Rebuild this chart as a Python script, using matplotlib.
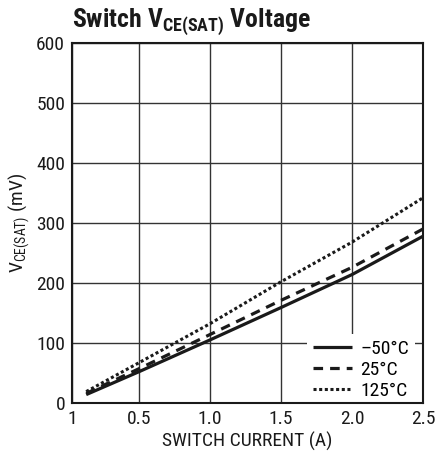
import matplotlib
matplotlib.use("Agg")
import matplotlib.pyplot as plt
from matplotlib import font_manager

available = {f.name for f in font_manager.fontManager.ttflist}
candidates = ['Liberation Sans Narrow', 'Roboto Condensed', 'Open Sans Condensed',
              'Noto Sans Condensed', 'DejaVu Sans Condensed', 'Roboto', 'Liberation Sans']
fam = next((c for c in candidates if c in available), 'DejaVu Sans')

plt.rcParams['font.family'] = [fam, 'DejaVu Sans']
plt.rcParams['mathtext.fontset'] = 'custom'
plt.rcParams['mathtext.rm'] = fam
plt.rcParams['mathtext.bf'] = fam + ':bold'

# Data
current = [0.13, 0.5, 1.0, 1.5, 2.0, 2.5]
v_m50 = [14, 52, 105, 159, 214, 278]
v_25 = [16, 57, 114, 171, 226, 290]
v_125 = [19, 67, 132, 202, 268, 342]
labels = ['\u201350\u00b0C', '25\u00b0C', '125\u00b0C']
xticks = [0.03, 0.5, 1.0, 1.5, 2.0, 2.5]
xticklabels = ['1', '0.5', '1.0', '1.5', '2.0', '2.5']
yticks = [0, 100, 200, 300, 400, 500, 600]

fig = plt.figure(figsize=(4.38, 4.61), dpi=100)
ax = fig.add_axes([72/438, 1-403/461, (423-72)/438, (403-43)/461])

ax.plot(current, v_m50, color='#1a1a1a', lw=2.3, ls='-', label=labels[0], solid_capstyle='butt')
ax.plot(current, v_25, color='#1a1a1a', lw=2.3, ls=(0, (3, 2.2)), label=labels[1])
ax.plot(current, v_125, color='#1a1a1a', lw=2.2, ls=(0, (1, 0.85)), label=labels[2])

ax.set_xlim(0.03, 2.5)
ax.set_ylim(0, 600)
ax.set_xticks(xticks)
ax.set_xticklabels(xticklabels)
ax.set_yticks(yticks)
ax.tick_params(length=0, labelsize=14, pad=5, colors='#1a1a1a')
ax.grid(True, color='#333333', lw=1.0)
ax.set_axisbelow(True)
for s in ax.spines.values():
    s.set_linewidth(1.5)
    s.set_color('#1a1a1a')
    s.set_zorder(6)

ax.set_xlabel('SWITCH CURRENT (A)', fontsize=14, labelpad=3, color='#1a1a1a')
ax.set_ylabel(r'V$_{\mathrm{CE(SAT)}}$ (mV)', fontsize=14, labelpad=3, color='#1a1a1a')

leg = ax.legend(loc='lower right', bbox_to_anchor=(1.005, -0.035), fontsize=14,
                handlelength=2.0, handletextpad=0.45, labelspacing=0.15,
                borderpad=0.3, frameon=True, fancybox=False)
leg.get_frame().set_facecolor('white')
leg.get_frame().set_edgecolor('none')
leg.get_frame().set_alpha(1)
leg.set_zorder(5)

fig.text(72/438, 1-28/461, r'Switch $\mathbf{V_{CE(SAT)}}$ Voltage', fontsize=18.5,
         fontweight='bold', color='#1a1a1a', ha='left', va='baseline')

fig.savefig('out.png', dpi=100)
